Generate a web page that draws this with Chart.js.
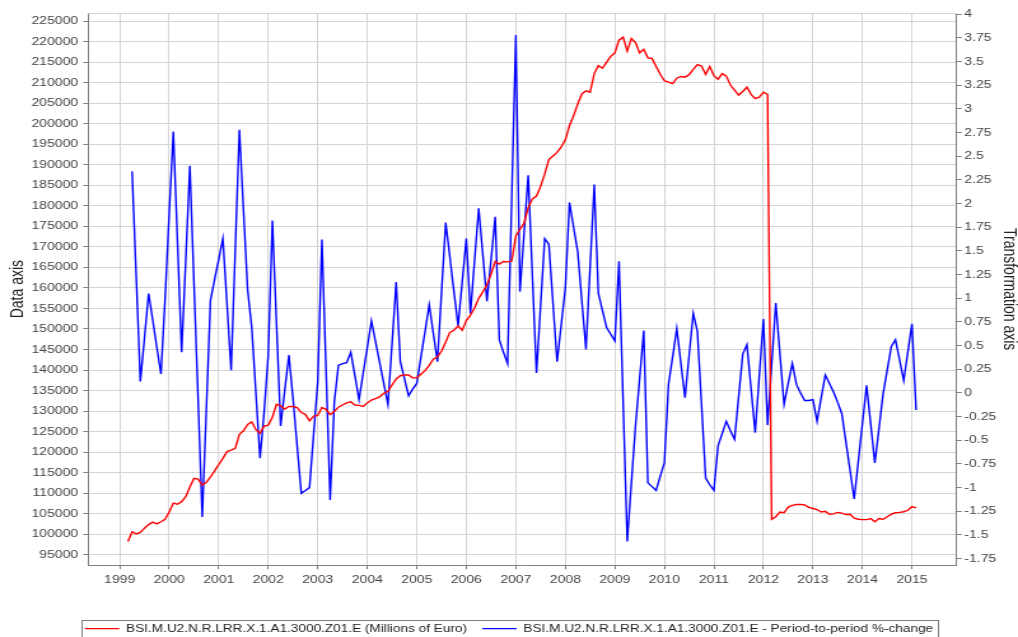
<!DOCTYPE html>
<html lang="en">
<head>
<meta charset="UTF-8">
<title>BSI.M.U2.N.R.LRR.X.1.A1.3000.Z01.E</title>
<script src="https://cdn.jsdelivr.net/npm/chart.js"></script>
<style>
    html, body { margin: 0; padding: 0; background: #fff; overflow: hidden; }
    /* the original picture is a stretched 800px wide chart */
    #wrap { width: 800px; height: 637px; transform: scaleX(1.2725); transform-origin: 0 0; }
</style>
</head>
<body>
<div id="wrap"><canvas id="chart" width="800" height="637"></canvas></div>
<script>
// monthly series, first month of each
const redStart = [1999, 3];
const blueStart = [1999, 4];

const redLabel = 'BSI.M.U2.N.R.LRR.X.1.A1.3000.Z01.E (Millions of Euro)';
const blueLabel = 'BSI.M.U2.N.R.LRR.X.1.A1.3000.Z01.E - Period-to-period %-change';

// Millions of Euro, Mar 1999 .. Feb 2015
const redValues = [
    98200, 100570, 100040, 100390, 101440, 102310, 102920, 102490, 103010, 103620,
    105370, 107550, 107290, 107900, 109120, 111480, 113570, 113400, 111910, 112610, 113920, 115400,
    116970, 118460, 120110, 120460, 120900, 124300, 125180, 126750, 127360, 125440, 124560, 126310,
    126570, 128490, 131630, 131280, 130500, 131110, 131110, 130850, 129630, 129190, 127620, 128750,
    128930, 130850, 130410, 129100, 129890, 130940, 131460, 131980, 132240, 131460, 131370, 131110,
    131980, 132680, 133030, 133460, 134340, 134770, 136340, 137830, 138610, 138790, 138790, 138090,
    138090, 138960, 139830, 141140, 142630, 143150, 144630, 146820, 149170, 149700, 150740, 149700,
    152050, 153360, 155110, 157460, 159030, 160780, 163400, 166450, 165840, 166450, 166360, 166540,
    172700, 174300, 175790, 179540, 181720, 182420, 184770, 187830, 191320, 192190, 193060, 194370,
    196120, 199610, 201960, 204840, 207290, 208070, 207720, 212260, 214180, 213570, 215050, 216450,
    217320, 220400, 221150, 217750, 220800, 219800, 217300, 218200, 216100, 215950, 214000, 212090,
    210520, 210170, 209820, 211130, 211560, 211390, 212000, 213310, 214440, 214090, 212090, 214000,
    211740, 210860, 212260, 211650, 209470, 208250, 207020, 207900, 208940, 207200, 206150, 206500,
    207720, 207200, 103620, 104230, 105370, 105190, 106590, 107020, 107200, 107200, 107110, 106500,
    106240, 105980, 105370, 105540, 104840, 104930, 105280, 105110, 104760, 104840, 103880, 103620,
    103530, 103530, 103800, 103010, 103800, 103620, 104230, 104840, 105190, 105280, 105450, 105800,
    106680, 106410
];

// period-to-period % change, Apr 1999 .. Feb 2015
const blueValues = [
    2.34, 1.23, 0.12, 0.58, 1.05, 0.77, 0.48, 0.20, 1.00,
    1.90, 2.76, 1.60, 0.43, 1.40, 2.40, 1.16, -0.07, -1.31, -0.17, 0.98, 1.20,
    1.41, 1.63, 0.94, 0.24, 1.51, 2.78, 1.93, 1.09, 0.69, 0.00, -0.69, -0.20,
    0.40, 1.82, 0.73, -0.35, 0.03, 0.40, -0.06, -0.56, -1.06, -1.03, -1.00, -0.43,
    0.12, 1.62, 0.25, -1.13, -0.10, 0.29, 0.31, 0.32, 0.43, 0.18, -0.07, 0.21,
    0.48, 0.76, 0.54, 0.32, 0.10, -0.12, 0.52, 1.17, 0.33, 0.15, -0.03, 0.04,
    0.10, 0.38, 0.65, 0.93, 0.63, 0.33, 1.07, 1.80, 1.44, 1.07, 0.71, 1.17,
    1.63, 0.84, 1.40, 1.95, 1.46, 0.97, 1.41, 1.86, 0.56, 0.43, 0.31, 2.05,
    3.78, 1.07, 1.69, 2.30, 1.25, 0.21, 0.92, 1.63, 1.57, 0.95, 0.33, 0.72,
    1.11, 2.01, 1.75, 1.49, 0.97, 0.46, 1.33, 2.20, 1.05, 0.87, 0.69, 0.62,
    0.55, 1.39, -0.09, -1.57, -0.95, -0.35, 0.15, 0.66, -0.95, -0.99, -1.03, -0.88,
    -0.74, 0.09, 0.38, 0.68, 0.31, -0.05, 0.40, 0.84, 0.65, -0.12, -0.90, -0.97,
    -1.03, -0.56, -0.43, -0.30, -0.40, -0.49, -0.04, 0.41, 0.51, 0.05, -0.42, 0.18,
    0.78, -0.34, 0.30, 0.95, 0.41, -0.12, 0.10, 0.31, 0.09, 0.00, -0.08, -0.08,
    -0.07, -0.30, -0.05, 0.19, 0.10, 0.01, -0.10, -0.22, -0.52, -0.82, -1.12, -0.72,
    -0.32, 0.08, -0.33, -0.74, -0.38, -0.01, 0.24, 0.49, 0.56, 0.35, 0.13, 0.43,
    0.73, -0.18
];

// axis ranges and ticks
const xMin = 1998.366, xMax = 2015.903;
const yearTicks = [1999, 2000, 2001, 2002, 2003, 2004, 2005, 2006, 2007, 2008,
    2009, 2010, 2011, 2012, 2013, 2014, 2015];
const leftMin = 92390, leftMax = 227030;
const leftTicks = [95000, 100000, 105000, 110000, 115000, 120000, 125000, 130000,
    135000, 140000, 145000, 150000, 155000, 160000, 165000, 170000, 175000, 180000,
    185000, 190000, 195000, 200000, 205000, 210000, 215000, 220000, 225000];
const rightMin = -1.821, rightMax = 4.013;
const rightTicks = [-1.75, -1.5, -1.25, -1, -0.75, -0.5, -0.25, 0, 0.25, 0.5, 0.75,
    1, 1.25, 1.5, 1.75, 2, 2.25, 2.5, 2.75, 3, 3.25, 3.5, 3.75, 4];

function toPoints(start, values) {
    return values.map((v, i) => {
        const m = start[1] - 1 + i;
        return { x: start[0] + Math.floor(m / 12) + (m % 12) / 12, y: v };
    });
}

const setTicks = list => scale => { scale.ticks = list.map(v => ({ value: v })); };

const axisGray = '#7f7f7f';
const gridGray = '#d4d4d4';
const textGray = '#444444';

Chart.defaults.font.family = '"Liberation Sans", Arial, sans-serif';
Chart.defaults.font.size = 11;
Chart.defaults.color = textGray;

// top edge of the plot and the frame round the legend
const frames = {
    id: 'frames',
    afterDraw(chart) {
        const ctx = chart.ctx;
        const a = chart.chartArea;
        ctx.save();
        ctx.strokeStyle = gridGray;
        ctx.lineWidth = 1;
        ctx.beginPath();
        ctx.moveTo(a.left, Math.round(a.top) + 0.5);
        ctx.lineTo(a.right, Math.round(a.top) + 0.5);
        ctx.stroke();

        const hb = chart.legend.legendHitBoxes;
        if (hb && hb.length) {
            const first = hb[0], last = hb[hb.length - 1];
            const x0 = Math.round(first.left - 3) + 0.5;
            const x1 = Math.round(last.left + last.width + 4) + 0.5;
            const y0 = Math.round(first.top - 3) + 0.5;
            ctx.strokeStyle = axisGray;
            ctx.strokeRect(x0, y0, x1 - x0, 40);
        }
        ctx.restore();
    }
};

new Chart(document.getElementById('chart'), {
    type: 'line',
    data: {
        datasets: [
            {
                label: redLabel,
                data: toPoints(redStart, redValues),
                borderColor: '#ff0000',
                backgroundColor: '#ff0000',
                borderWidth: 1.4,
                pointRadius: 0,
                tension: 0,
                yAxisID: 'y'
            },
            {
                label: blueLabel,
                data: toPoints(blueStart, blueValues),
                borderColor: '#0000ff',
                backgroundColor: '#0000ff',
                borderWidth: 1.4,
                pointRadius: 0,
                tension: 0,
                yAxisID: 'y1'
            }
        ]
    },
    options: {
        responsive: false,
        animation: false,
        devicePixelRatio: 1,
        layout: { padding: { top: 13, left: 0, right: 0, bottom: -7 } },
        plugins: {
            tooltip: { enabled: false },
            legend: {
                position: 'bottom',
                labels: {
                    usePointStyle: true,
                    pointStyle: 'line',
                    pointStyleWidth: 27,
                    padding: 12,
                    color: '#222',
                    font: { size: 10.7 }
                }
            }
        },
        scales: {
            x: {
                type: 'linear',
                min: xMin,
                max: xMax,
                afterBuildTicks: setTicks(yearTicks),
                ticks: {
                    autoSkip: false,
                    maxRotation: 0,
                    padding: 4,
                    callback: v => String(v)
                },
                grid: { color: gridGray, tickColor: axisGray, tickLength: 4 },
                border: { color: axisGray },
                afterFit: s => { s.height = 46; }
            },
            y: {
                position: 'left',
                min: leftMin,
                max: leftMax,
                afterBuildTicks: setTicks(leftTicks),
                ticks: {
                    autoSkip: false,
                    padding: 4,
                    callback: v => String(v)
                },
                grid: { color: gridGray, tickColor: axisGray, tickLength: 4 },
                border: { color: axisGray },
                title: {
                    display: true,
                    text: 'Data axis',
                    color: '#222',
                    font: { size: 14, lineHeight: 1 },
                    padding: { top: 7.5, bottom: 0 }
                },
                afterFit: s => { s.width = 69.4; }
            },
            y1: {
                position: 'right',
                min: rightMin,
                max: rightMax,
                afterBuildTicks: setTicks(rightTicks),
                ticks: {
                    autoSkip: false,
                    padding: 2,
                    callback: v => String(v)
                },
                grid: { drawOnChartArea: false, tickColor: axisGray, tickLength: 4 },
                border: { color: axisGray },
                title: {
                    display: true,
                    text: 'Transformation axis',
                    color: '#222',
                    font: { size: 14, lineHeight: 1 },
                    padding: { top: 0, bottom: 0 }
                },
                afterFit: s => { s.width = 48.2; }
            }
        }
    },
    plugins: [frames]
});
</script>
</body>
</html>
